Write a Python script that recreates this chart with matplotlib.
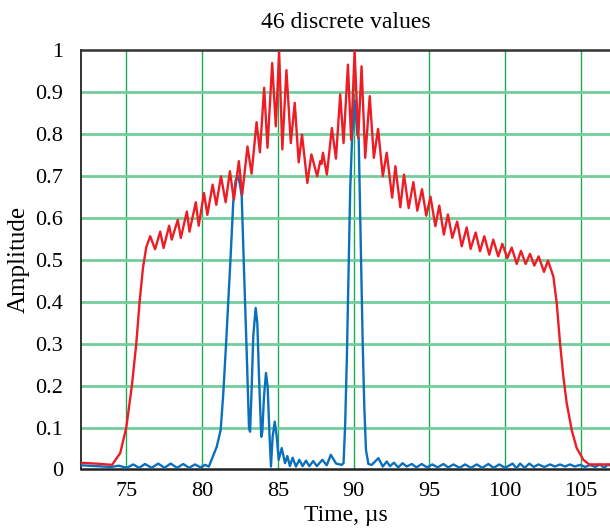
import matplotlib
matplotlib.use("Agg")
import matplotlib.pyplot as plt

plt.rcParams['font.family'] = ['Liberation Serif', 'DejaVu Serif']

red_x = [72.0, 73.0, 74.06, 74.6, 75.0, 75.37, 75.66, 75.88, 76.1, 76.32,
         76.58, 76.9, 77.24, 77.46, 77.83, 78.0, 78.4, 78.6, 79.0, 79.17,
         79.59, 79.78, 80.13, 80.35, 80.7, 80.94, 81.25, 81.56, 81.84, 82.1,
         82.43, 82.65, 83.0, 83.27, 83.6, 83.82, 84.1, 84.32, 84.63, 84.87,
         85.09, 85.3, 85.57, 85.86, 86.12, 86.38, 86.6, 86.95, 87.22, 87.6,
         87.8, 87.88, 87.98, 88.24, 88.57, 88.84, 89.12, 89.34, 89.63, 89.84,
         90.07, 90.31, 90.53, 90.77, 91.07, 91.34, 91.62, 91.93, 92.19, 92.55,
         92.76, 93.09, 93.33, 93.64, 93.95, 94.21, 94.52, 94.8, 95.08, 95.4,
         95.66, 95.96, 96.23, 96.52, 96.84, 97.14, 97.47, 97.73, 98.06, 98.35,
         98.63, 98.96, 99.22, 99.55, 99.82, 100.15, 100.44, 100.77, 101.05, 101.36,
         101.65, 101.93, 102.22, 102.57, 102.83, 103.19, 103.41, 103.63, 103.85, 104.07,
         104.4, 104.73, 105.17, 105.56, 107.0]
red_y = [0.016, 0.014, 0.011, 0.039, 0.10, 0.20, 0.30, 0.40, 0.48, 0.53,
         0.556, 0.525, 0.567, 0.528, 0.581, 0.548, 0.595, 0.552, 0.615, 0.567,
         0.637, 0.581, 0.659, 0.607, 0.679, 0.631, 0.699, 0.637, 0.711, 0.643,
         0.735, 0.655, 0.770, 0.705, 0.828, 0.756, 0.910, 0.767, 0.969, 0.818,
         0.995, 0.763, 0.952, 0.778, 0.874, 0.732, 0.798, 0.683, 0.751, 0.699,
         0.735, 0.728, 0.755, 0.703, 0.814, 0.741, 0.894, 0.778, 0.965, 0.786,
         0.997, 0.790, 0.961, 0.743, 0.890, 0.743, 0.812, 0.699, 0.755, 0.648,
         0.723, 0.625, 0.703, 0.623, 0.685, 0.617, 0.668, 0.605, 0.650, 0.580,
         0.629, 0.560, 0.608, 0.552, 0.591, 0.532, 0.577, 0.526, 0.565, 0.520,
         0.556, 0.512, 0.548, 0.508, 0.538, 0.504, 0.529, 0.490, 0.521, 0.490,
         0.514, 0.486, 0.508, 0.471, 0.498, 0.460, 0.397, 0.301, 0.221, 0.158,
         0.094, 0.051, 0.023, 0.012, 0.012]

blue_x = [72.0, 73.0, 74.0, 74.5, 75.03, 75.46, 75.85, 76.23, 76.67, 77.11,
          77.52, 77.93, 78.35, 78.76, 79.15, 79.54, 79.9, 80.2, 80.45, 80.97,
          81.23, 81.4, 81.58, 81.73, 81.89, 82.06, 82.22, 82.37, 82.5, 82.62,
          82.77, 82.95, 83.1, 83.17, 83.28, 83.38, 83.54, 83.65, 83.76, 83.91,
          83.98, 84.09, 84.22, 84.33, 84.44, 84.55, 84.66, 84.8, 84.93, 85.06,
          85.26, 85.48, 85.63, 85.8, 85.98, 86.2, 86.42, 86.64, 86.86, 87.08,
          87.34, 87.58, 87.94, 88.23, 88.5, 88.85, 89.22, 89.34, 89.45, 89.56,
          89.67, 89.78, 89.9, 90.07, 90.25, 90.34, 90.47, 90.6, 90.71, 90.82,
          90.98, 91.2, 91.64, 91.93, 92.19, 92.4, 92.67, 92.95, 93.24, 93.5,
          93.85, 94.15, 94.5, 94.85, 95.2, 95.55, 95.93, 96.25, 96.59, 97.0,
          97.36, 97.75, 98.13, 98.5, 98.9, 99.25, 99.62, 100.0, 100.5, 100.75,
          100.99, 101.3, 101.6, 101.9, 102.2, 102.6, 102.97, 103.3, 103.63, 103.95,
          104.29, 104.6, 104.95, 105.3, 105.61, 105.95, 106.27, 106.55, 106.8, 107.0]
blue_y = [0.010, 0.008, 0.006, 0.009, 0.004, 0.012, 0.004, 0.013, 0.004, 0.014,
          0.004, 0.014, 0.004, 0.013, 0.004, 0.012, 0.005, 0.011, 0.007, 0.054,
          0.094, 0.18, 0.295, 0.40, 0.51, 0.637, 0.69, 0.70, 0.68, 0.651,
          0.476, 0.277, 0.10, 0.090, 0.198, 0.317, 0.385, 0.349, 0.222, 0.078,
          0.09, 0.174, 0.230, 0.198, 0.094, 0.007, 0.078, 0.114, 0.078, 0.023,
          0.051, 0.015, 0.032, 0.008, 0.028, 0.007, 0.023, 0.008, 0.021, 0.008,
          0.020, 0.008, 0.023, 0.010, 0.035, 0.014, 0.011, 0.015, 0.110, 0.269,
          0.468, 0.667, 0.786, 0.88, 0.80, 0.79, 0.548, 0.309, 0.150, 0.047,
          0.013, 0.011, 0.027, 0.007, 0.019, 0.008, 0.016, 0.005, 0.015, 0.007,
          0.013, 0.005, 0.013, 0.005, 0.012, 0.005, 0.013, 0.005, 0.012, 0.004,
          0.012, 0.004, 0.012, 0.004, 0.013, 0.004, 0.012, 0.004, 0.014, 0.003,
          0.014, 0.004, 0.014, 0.006, 0.012, 0.006, 0.012, 0.007, 0.012, 0.007,
          0.012, 0.007, 0.011, 0.006, 0.011, 0.006, 0.012, 0.004, 0.012, 0.008]

x_ticks = [75, 80, 85, 90, 95, 100, 105]
y_ticks = [0, 0.1, 0.2, 0.3, 0.4, 0.5, 0.6, 0.7, 0.8, 0.9, 1]
y_tick_labels = ['0', '0.1', '0.2', '0.3', '0.4', '0.5', '0.6', '0.7', '0.8', '0.9', '1']

fig = plt.figure(figsize=(6.1, 5.3), dpi=100)
ax = fig.add_axes([0.1325, 0.1142, 0.8693, 0.7915])

ax.set_xlim(72, 107)
ax.set_ylim(0, 1)

# grid
for xt in x_ticks:
    ax.axvline(xt, color='#1aaa55', lw=1.0, zorder=1)
for yt in y_ticks[1:-1]:
    ax.axhline(yt, color='#72cd9a', lw=2.0, zorder=1)

ax.plot(blue_x, blue_y, color='#0a70bd', lw=1.7, zorder=3, solid_joinstyle='round')
ax.plot(red_x, red_y, color='#ee1c25', lw=1.7, zorder=4, solid_joinstyle='round')

ax.set_xticks(x_ticks)
ax.set_xticklabels([str(t) for t in x_ticks])
ax.set_yticks(y_ticks)
ax.set_yticklabels(y_tick_labels)
ax.tick_params(axis='both', length=0, labelsize=16)
ax.tick_params(axis='y', pad=13)
ax.tick_params(axis='x', pad=9)

ax.spines['right'].set_visible(False)
ax.spines['top'].set_color('#333333')
ax.spines['top'].set_linewidth(1.8)
ax.spines['left'].set_color('#222222')
ax.spines['left'].set_linewidth(1.3)
ax.spines['bottom'].set_color('#222222')
ax.spines['bottom'].set_linewidth(1.8)

ax.set_title('46 discrete values', fontsize=17, pad=16)
ax.set_xlabel('Time, \u00b5s', fontsize=17, labelpad=3)
ax.set_ylabel('Amplitude', fontsize=18, labelpad=4)

fig.savefig('out.png', dpi=100)
